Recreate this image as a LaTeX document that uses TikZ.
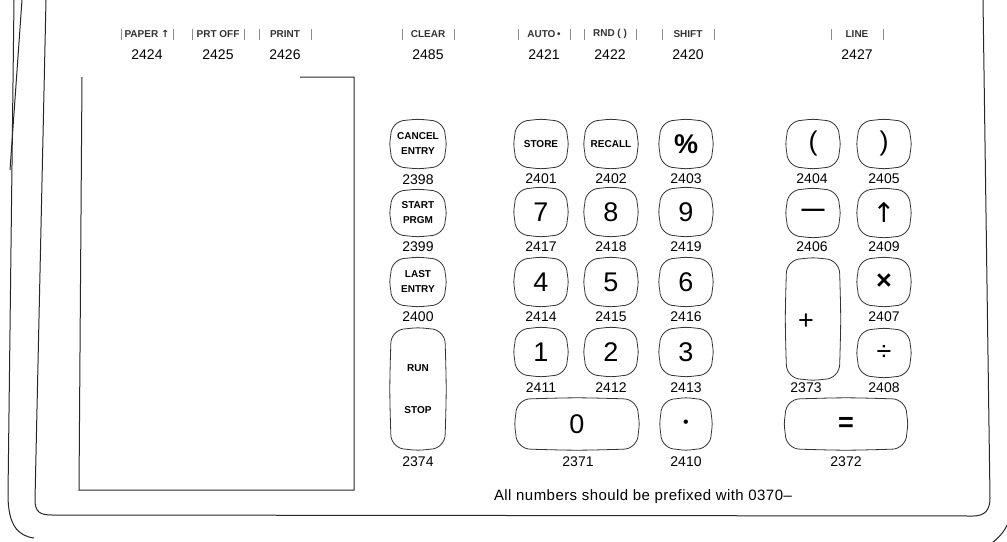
\documentclass[tikz,border=0pt]{standalone}
\usepackage{fontspec}
\setmainfont{Liberation Sans}
\newfontfamily\symf{DejaVu Sans}
\usetikzlibrary{calc}
\begin{document}
\begin{tikzpicture}[x=1pt,y=-1pt,
  frame/.style={line width=1pt,black!85},
  keyline/.style={line width=0.8pt,black!80},
  keybox/.style={inner sep=0pt,align=center},
  sq/.style={keybox,minimum width=52pt,minimum height=47pt},
  tall/.style={keybox,minimum width=53pt,minimum height=120pt},
  wide/.style={keybox,minimum width=122pt,minimum height=50pt},
  small/.style={font=\fontsize{10}{15}\selectfont\bfseries},
  big/.style={font=\fontsize{27}{27}\selectfont},
  num/.style={font=\fontsize{14}{14}\selectfont,inner sep=0pt},
  toplab/.style={font=\fontsize{10}{10}\selectfont\bfseries,inner sep=0pt,black!80},
  bar/.style={line width=0.6pt,black!45}
]
\useasboundingbox (0,0) rectangle (1007,541);
% frame
\draw[frame] (14,0) -- (8,495) .. controls (8,525) and (18,536) .. (34,538);
\draw[frame] (22,0) -- (10,170);
\draw[frame] (46,0) -- (35,500) .. controls (35,512) and (40,515) .. (52,515)
  -- (973,516) .. controls (985,516) and (990,510) .. (990,498) -- (983,0);
\draw[frame] (1009,521) .. controls (1004,533) and (998,538) .. (992,543);
% paper
\draw[frame] (300,77) -- (354,77) -- (354,490) -- (79,490) -- (82,77);
% top labels
\foreach \cx/\lab/\n/\nm in {147/{PAPER {\symf↑}}/2424/t1, 218/PRT OFF/2425/t2, 285/PRINT/2426/t3,
   428/CLEAR/2485/t4, 544/AUTO\,•/2421/t5, 610/RND ( )/2422/t6, 688/SHIFT/2420/t7, 857/LINE/2427/t8}{
  \node[toplab] (\nm) at (\cx,34) {\lab};
  \node[num] (\nm n) at (\cx,55) {\n};
  \draw[bar] (\cx-26,29) -- (\cx-26,40);
  \draw[bar] (\cx+26,29) -- (\cx+26,40);
}
% column A
\node[sq,small,minimum width=54pt] (kce) at (418,144) {CANCEL\\ENTRY};
\node[num] (nce) at (418,180) {2398};
\node[sq,small,minimum width=54pt,minimum height=45pt] (ksp) at (418,213) {START\\PRGM};
\node[num] (nsp) at (418,247) {2399};
\node[sq,small,minimum width=54pt] (kle) at (418,282) {LAST\\ENTRY};
\node[num] (nle) at (418,317) {2400};
\node[tall,minimum width=54pt] (krs) at (418,389) {};
\node[small] (lrun) at (418,368) {RUN};
\node[small] (lstop) at (418,410) {STOP};
\node[num] (nrs) at (418,462) {2374};
% column B
\node[sq,small] (kst) at (541,144) {STORE};
\node[num] (nst) at (541,179) {2401};
\node[sq,big] (k7) at (541,212) {7};
\node[num] (n7) at (541,247) {2417};
\node[sq,big] (k4) at (541,282) {4};
\node[num] (n4) at (541,317) {2414};
\node[sq,big] (k1) at (541,352) {1};
\node[num] (n1) at (541,388) {2411};
% column C
\node[sq,small] (krc) at (611,144) {RECALL};
\node[num] (nrc) at (611,179) {2402};
\node[sq,big] (k8) at (611,212) {8};
\node[num] (n8) at (611,247) {2418};
\node[sq,big] (k5) at (611,282) {5};
\node[num] (n5) at (611,317) {2415};
\node[sq,big] (k2) at (611,352) {2};
\node[num] (n2) at (611,388) {2412};
\node[wide,big] (k0) at (577,424) {0};
\node[num] (n0) at (578,462) {2371};
% column D
\node[sq,big,font=\fontsize{27}{27}\selectfont\bfseries] (kpc) at (686,144) {\%};
\node[num] (npc) at (686,179) {2403};
\node[sq,big] (k9) at (686,212) {9};
\node[num] (n9) at (686,247) {2419};
\node[sq,big] (k6) at (686,282) {6};
\node[num] (n6) at (686,317) {2416};
\node[sq,big] (k3) at (686,352) {3};
\node[num] (n3) at (686,388) {2413};
\node[sq,minimum width=50pt,minimum height=50pt,font=\fontsize{16}{16}\selectfont] (kdot) at (686,424) {•};
\node[num] (ndot) at (686,462) {2410};
% column E
\node[sq,big] (klp) at (813,144) {(};
\node[num] (nlp) at (812,179) {2404};
\node[sq,font=\fontsize{23}{23}\selectfont\bfseries] (kmin) at (813,213) {—};
\node[num] (nmin) at (812,247) {2406};
\node[tall] (kplus) at (813,319) {};
\node[big] (lplus) at (806,322) {+};
\node[num] (nplus) at (806,388) {2373};
\node[wide,big,minimum width=121pt,font=\fontsize{27}{27}\selectfont\bfseries] (keq) at (846,424) {=};
\node[num] (neq) at (846,462) {2372};
% column F
\node[sq,big] (krp) at (884,144) {)};
\node[num] (nrp) at (884,179) {2405};
\node[sq,big] (kup) at (884,213) {\symf↑};
\node[num] (nup) at (884,247) {2409};
\node[sq,big,font=\fontsize{27}{27}\selectfont\bfseries] (kmul) at (884,282) {×};
\node[num] (nmul) at (884,317) {2407};
\node[sq,big] (kdiv) at (884,353) {÷};
\node[num] (ndiv) at (884,388) {2408};
% key outlines: rounded corners and slightly bowed sides
\def\R{15}\def\c{6.8}\def\o{1.3}
\foreach \k in {kce,ksp,kle,krs,kst,k7,k4,k1,krc,k8,k5,k2,k0,kpc,k9,k6,k3,kdot,
   klp,kmin,kplus,keq,krp,kup,kmul,kdiv}{
  \draw[keyline] ($(\k.north west)+(\R,0)$)
    .. controls ($(\k.north)+(0,-\o)$) .. ($(\k.north east)+(-\R,0)$)
    .. controls ($(\k.north east)+(-\c,0)$) and ($(\k.north east)+(0,\c)$) .. ($(\k.north east)+(0,\R)$)
    .. controls ($(\k.east)+(\o,0)$) .. ($(\k.south east)+(0,-\R)$)
    .. controls ($(\k.south east)+(0,-\c)$) and ($(\k.south east)+(-\c,0)$) .. ($(\k.south east)+(-\R,0)$)
    .. controls ($(\k.south)+(0,\o)$) .. ($(\k.south west)+(\R,0)$)
    .. controls ($(\k.south west)+(\c,0)$) and ($(\k.south west)+(0,-\c)$) .. ($(\k.south west)+(0,-\R)$)
    .. controls ($(\k.west)+(-\o,0)$) .. ($(\k.north west)+(0,\R)$)
    .. controls ($(\k.north west)+(0,\c)$) and ($(\k.north west)+(\c,0)$) .. cycle;
}
% footer
\node[num,font=\fontsize{15}{15}\selectfont\addfontfeature{LetterSpace=3}] (foot) at (643,497) {All numbers should be prefixed with 0370–};
\end{tikzpicture}
\end{document}
